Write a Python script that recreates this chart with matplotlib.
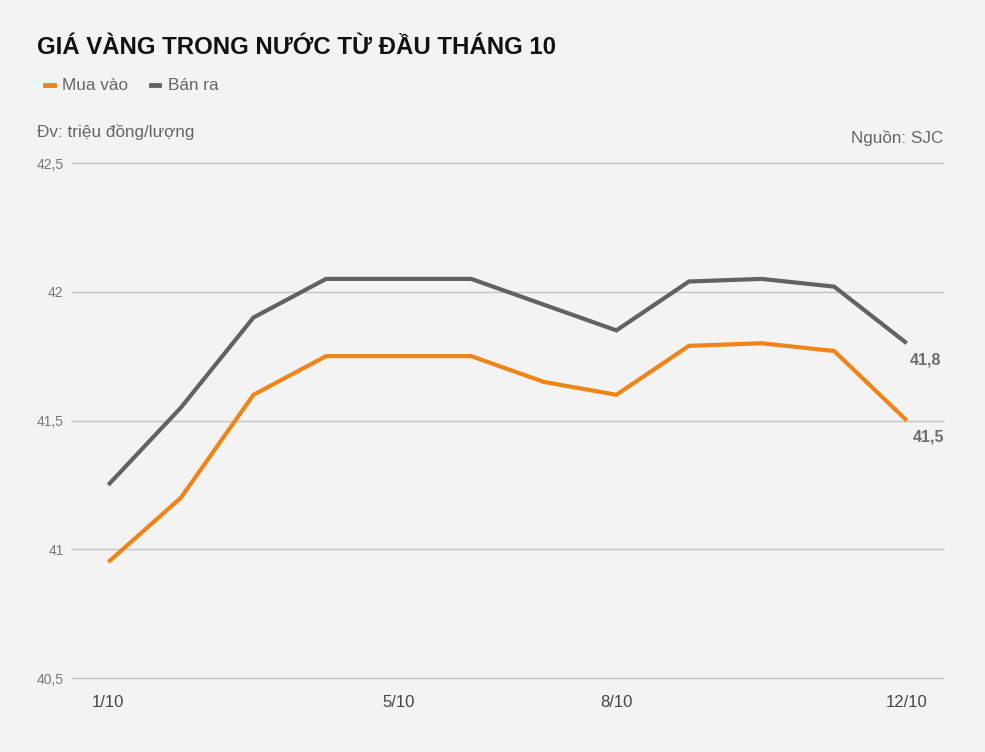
import matplotlib
matplotlib.use("Agg")
import matplotlib.pyplot as plt
from matplotlib.lines import Line2D

plt.rcParams['font.family'] = ['Liberation Sans', 'DejaVu Sans']

# data
days = ['1/10', '2/10', '3/10', '4/10', '5/10', '6/10', '7/10', '8/10', '9/10', '10/10', '11/10', '12/10']
mua_vao = [40.95, 41.2, 41.6, 41.75, 41.75, 41.75, 41.65, 41.6, 41.79, 41.8, 41.77, 41.5]
ban_ra = [41.25, 41.55, 41.9, 42.05, 42.05, 42.05, 41.95, 41.85, 42.04, 42.05, 42.02, 41.8]
shown_ticks = ['1/10', '5/10', '8/10', '12/10']
y_ticks = [40.5, 41, 41.5, 42, 42.5]

bg = '#f3f3f3'
orange = '#ef8419'
gray = '#626262'

fig = plt.figure(figsize=(9.85, 7.52), dpi=100, facecolor=bg)
ax = fig.add_axes([0.0731, 0.0984, 0.8843, 0.6848])
ax.set_facecolor(bg)

x = list(range(len(days)))
ax.plot(x, ban_ra, color=gray, lw=3, solid_capstyle='butt', solid_joinstyle='miter')
ax.plot(x, mua_vao, color=orange, lw=3, solid_capstyle='butt', solid_joinstyle='miter')

ax.set_xlim(-0.5, 11.5)
ax.set_ylim(40.5, 42.5)
ax.set_yticks(y_ticks)
ax.set_yticklabels([f'{v:g}'.replace('.', ',') for v in y_ticks])
ax.set_xticks([days.index(d) for d in shown_ticks])
ax.set_xticklabels(shown_ticks)
ax.grid(axis='y', color='#c4c4c4', lw=1)
for gl in ax.get_ygridlines():
    gl.set_clip_on(False)
ax.set_axisbelow(True)
for s in ax.spines.values():
    s.set_visible(False)
ax.tick_params(axis='both', length=0)
ax.tick_params(axis='y', labelsize=10, labelcolor='#777777', pad=6)
ax.tick_params(axis='x', labelsize=12, labelcolor='#444444', pad=12)

# end labels
ax.annotate(f'{ban_ra[-1]:g}'.replace('.', ','), (x[-1], ban_ra[-1]), xytext=(2, -12),
            textcoords='offset points', fontsize=11.5, fontweight='bold', color='#6e6e6e',
            ha='left', va='center')
ax.annotate(f'{mua_vao[-1]:g}'.replace('.', ','), (x[-1], mua_vao[-1]), xytext=(4, -12),
            textcoords='offset points', fontsize=11.5, fontweight='bold', color='#6e6e6e',
            ha='left', va='center')

fig.text(37 / 985, 1 - 48 / 752, 'GIÁ VÀNG TRONG NƯỚC TỪ ĐẦU THÁNG 10', fontsize=17.3,
         fontweight='bold', color='#111111', va='center', ha='left')
fig.text(37 / 985, 1 - 132 / 752, 'Đv: triệu đồng/lượng', fontsize=12.3, color='#666666',
         va='center', ha='left')
fig.text(943 / 985, 1 - 138 / 752, 'Nguồn: SJC', fontsize=12.3, color='#666666',
         va='center', ha='right')

handles = [Line2D([], [], color=orange, lw=3.5), Line2D([], [], color=gray, lw=3.5)]
fig.legend(handles, ['Mua vào', 'Bán ra'], loc='center left', bbox_to_anchor=(30 / 985, 1 - 86 / 752),
           ncol=2, frameon=False, fontsize=12.3, handlelength=0.5, handletextpad=0.5,
           columnspacing=1.3, labelcolor='#666666')

fig.savefig('out.png', dpi=100, facecolor=bg)
